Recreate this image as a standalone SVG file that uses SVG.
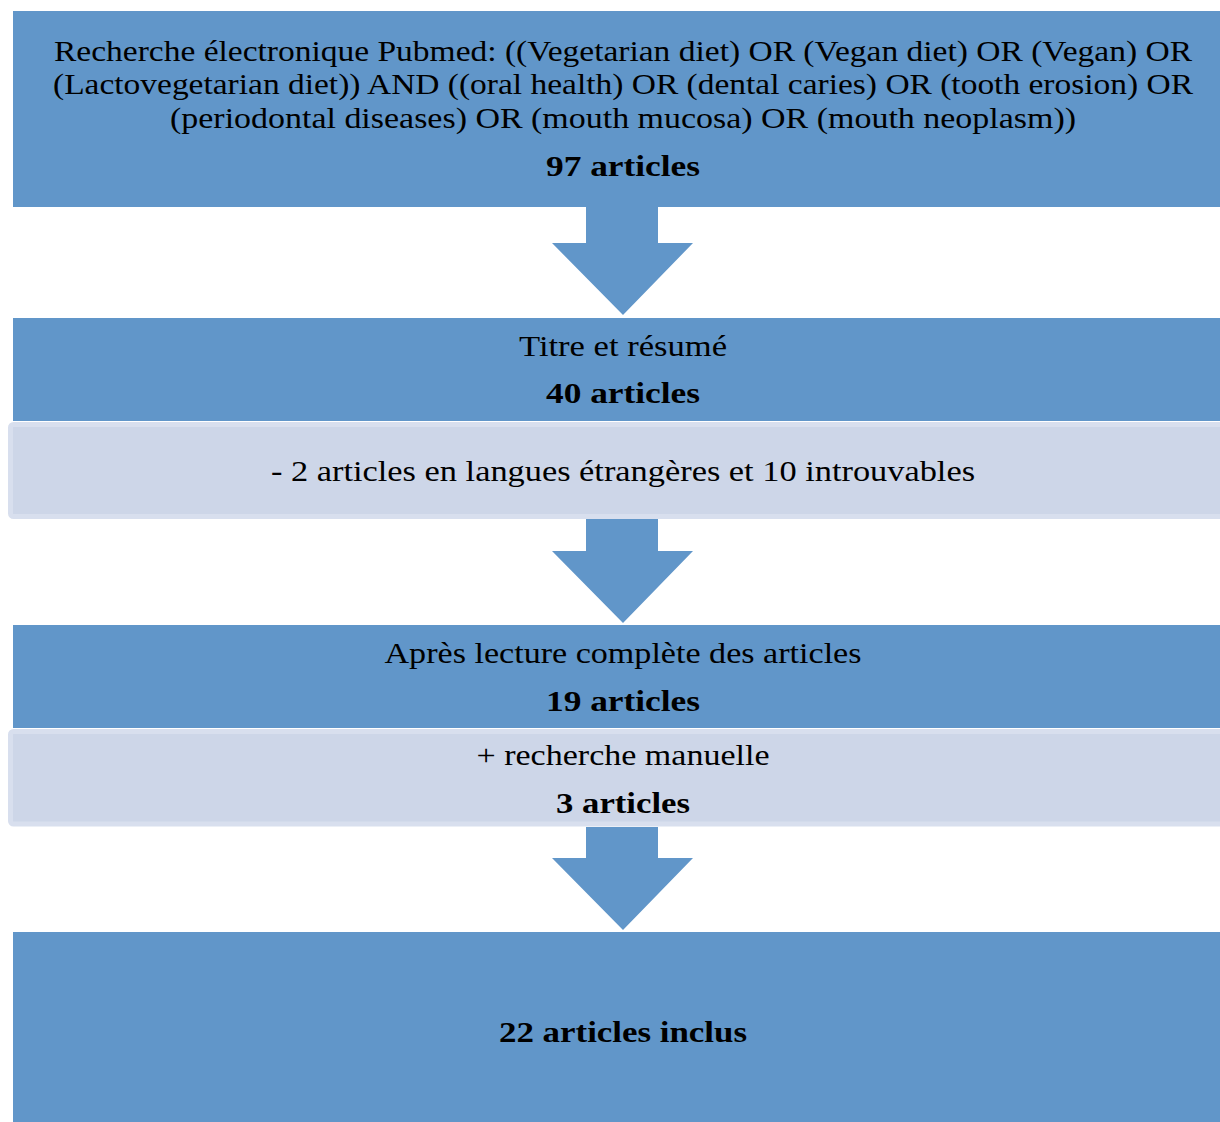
<svg xmlns="http://www.w3.org/2000/svg" width="1220" height="1122" viewBox="0 0 1220 1122">
<style>
.blue{fill:#6196C9}
.light{fill:#CDD6E8;stroke:#D8DFEE;stroke-width:5}
.arrow{fill:#6196C9}
text{font-family:"Liberation Serif","DejaVu Serif",serif;font-size:30px;fill:#000;text-anchor:middle}
.b{font-weight:bold}
</style>
<rect width="1220" height="1122" fill="#fff"/>
<g id="connectors">
<polygon class="arrow" points="586,207 658,207 658,243 693,243 623,315 552,243 586,243"/>
<polygon class="arrow" points="586,519 658,519 658,551 693,551 623,623 552,551 586,551"/>
<polygon class="arrow" points="586,827 658,827 658,858 693,858 623,930 552,858 586,858"/>
</g>
<g id="node1">
<rect class="blue" x="13" y="11" width="1207" height="196"/>
<text x="623" y="61" textLength="1138" lengthAdjust="spacingAndGlyphs">Recherche électronique Pubmed: ((Vegetarian diet) OR (Vegan diet) OR (Vegan) OR</text>
<text x="623" y="94" textLength="1140" lengthAdjust="spacingAndGlyphs">(Lactovegetarian diet)) AND ((oral health) OR (dental caries) OR (tooth erosion) OR</text>
<text x="623" y="128" textLength="906" lengthAdjust="spacingAndGlyphs">(periodontal diseases) OR (mouth mucosa) OR (mouth neoplasm))</text>
<text class="b" x="623" y="176" textLength="154" lengthAdjust="spacingAndGlyphs">97 articles</text>
</g>
<g id="node2">
<rect class="blue" x="13" y="318" width="1207" height="103"/>
<text x="623" y="356" textLength="208" lengthAdjust="spacingAndGlyphs">Titre et résumé</text>
<text class="b" x="623" y="403" textLength="154" lengthAdjust="spacingAndGlyphs">40 articles</text>
</g>
<g id="node3">
<rect class="light" x="10.5" y="424.5" width="1215" height="92" rx="3"/>
<text x="623" y="481" textLength="704" lengthAdjust="spacingAndGlyphs">- 2 articles en langues étrangères et 10 introuvables</text>
</g>
<g id="node4">
<rect class="blue" x="13" y="625" width="1207" height="103"/>
<text x="623" y="663" textLength="477" lengthAdjust="spacingAndGlyphs">Après lecture complète des articles</text>
<text class="b" x="623" y="711" textLength="154" lengthAdjust="spacingAndGlyphs">19 articles</text>
</g>
<g id="node5">
<rect class="light" x="10.5" y="731.5" width="1215" height="92.5" rx="3"/>
<text x="623" y="765" textLength="293" lengthAdjust="spacingAndGlyphs">+ recherche manuelle</text>
<text class="b" x="623" y="813" textLength="134" lengthAdjust="spacingAndGlyphs">3 articles</text>
</g>
<g id="node6">
<rect class="blue" x="13" y="932" width="1207" height="190"/>
<text class="b" x="623" y="1042" textLength="248" lengthAdjust="spacingAndGlyphs">22 articles inclus</text>
</g>
</svg>
